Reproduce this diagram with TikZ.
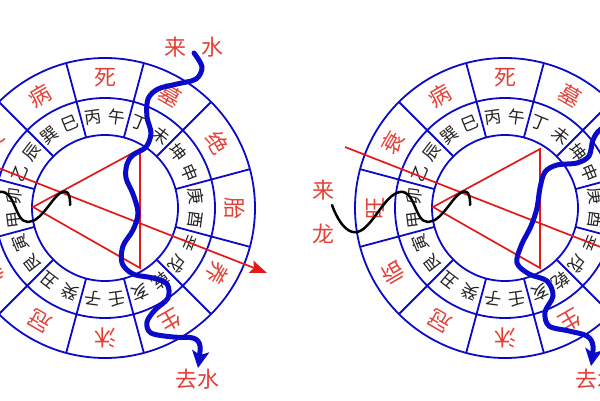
\documentclass[tikz,border=0pt]{standalone}
\usepackage{fontspec}
\newfontfamily\cjk{Noto Sans CJK SC}
\usetikzlibrary{arrows.meta}
\definecolor{ringblue}{RGB}{10,10,200}
\definecolor{stagered}{RGB}{228,64,54}
\definecolor{linered}{RGB}{228,24,24}
\definecolor{mtgray}{RGB}{35,35,35}
\tikzset{
  ring/.style={ringblue,line width=1.8pt},
  stage/.style={stagered,font=\cjk\fontsize{22}{22}\selectfont,inner sep=0pt},
  mount/.style={mtgray,font=\cjk\fontsize{17}{17}\selectfont,inner sep=0pt},
  sidetext/.style={stagered,font=\cjk\fontsize{22}{44}\selectfont,inner sep=0pt,align=center},
  sanhe/.style={linered,line width=1.7pt},
  dragon/.style={black,line width=2.5pt,line cap=round},
  water/.style={ringblue,line width=5pt,line cap=round,-{Stealth[length=17pt,width=17pt,inset=4pt]}}
}
% one compass: rings, twelve stages, twenty-four mountains
\newcommand{\luopan}[1]{%
  \draw[ring] (0,0) circle (150) (0,0) circle (110) (0,0) circle (73);
  \foreach \a in {15,45,...,345}
    \draw[ring] (90-\a:73) -- (90-\a:150);
  \foreach \t/\a in {死/0,墓/30,绝/60,胎/90,养/120,生/150,沐/180,冠/210,临/240,旺/270,衰/300,病/330}
    \draw (90-\a:130) node[stage,rotate=-\a] (#1s\a) {\t};
  \foreach \t [count=\i from 0] in {丙,午,丁,未,坤,申,庚,酉,辛,戌,乾,亥,壬,子,癸,丑,艮,寅,甲,卯,乙,辰,巽,巳}
    \draw ({97.5-15*\i}:91.5) node[mount,rotate={7.5-15*\i}] (#1m\i) {\t};
  \draw[sanhe] (-72,1) -- (35,59) -- (35,-60) -- cycle;
  \draw[sanhe,-{Stealth[length=17pt,width=13pt,inset=3pt]}] (-160,61) -- (162,-65);
  \draw[dragon] plot[smooth,tension=0.8] coordinates {(-173,3) (-148,-24) (-105,16) (-77,-14) (-43,16) (-35,3)};
}
\begin{document}
\begin{tikzpicture}[x=1pt,y=1pt]
\useasboundingbox (0,0) rectangle (600,400);
\clip (0,0) rectangle (600,400);
% left compass
\begin{scope}[shift={(105,192)}]
  \luopan{l}
  \draw[water] plot[smooth,tension=0.55] coordinates {(89,155) (97,141) (91,129) (72,124) (53,119) (43,109) (42,91) (46,75) (41,61) (28,53) (22,44) (21,30) (28,14) (33,-5) (28,-22) (18,-38) (17,-55) (28,-66) (48,-70) (62,-76) (63,-90) (50,-102) (42,-114) (46,-125) (68,-129) (88,-130) (95,-138) (93,-160)};
  \draw (89,161) node[sidetext] (laishui) {来\hspace{0.65em}水};
  \draw (92,-171) node[sidetext] (qushui) {去水};
\end{scope}
% right compass
\begin{scope}[shift={(505,192)}]
  \luopan{r}
  \draw[water] plot[smooth,tension=0.55] coordinates {(120,92) (96,79) (88,68) (84,52) (72,45) (52,43) (40,36) (35,20) (32,0) (26,-18) (16,-38) (12,-55) (24,-66) (42,-73) (48,-88) (40,-104) (44,-118) (64,-123) (82,-128) (88,-138) (86,-158)};
  \draw (-182,-4) node[sidetext] (lailong) {来\\龙};
  \draw (92,-171) node[sidetext] (qushuir) {去水};
\end{scope}
\end{tikzpicture}
\end{document}
